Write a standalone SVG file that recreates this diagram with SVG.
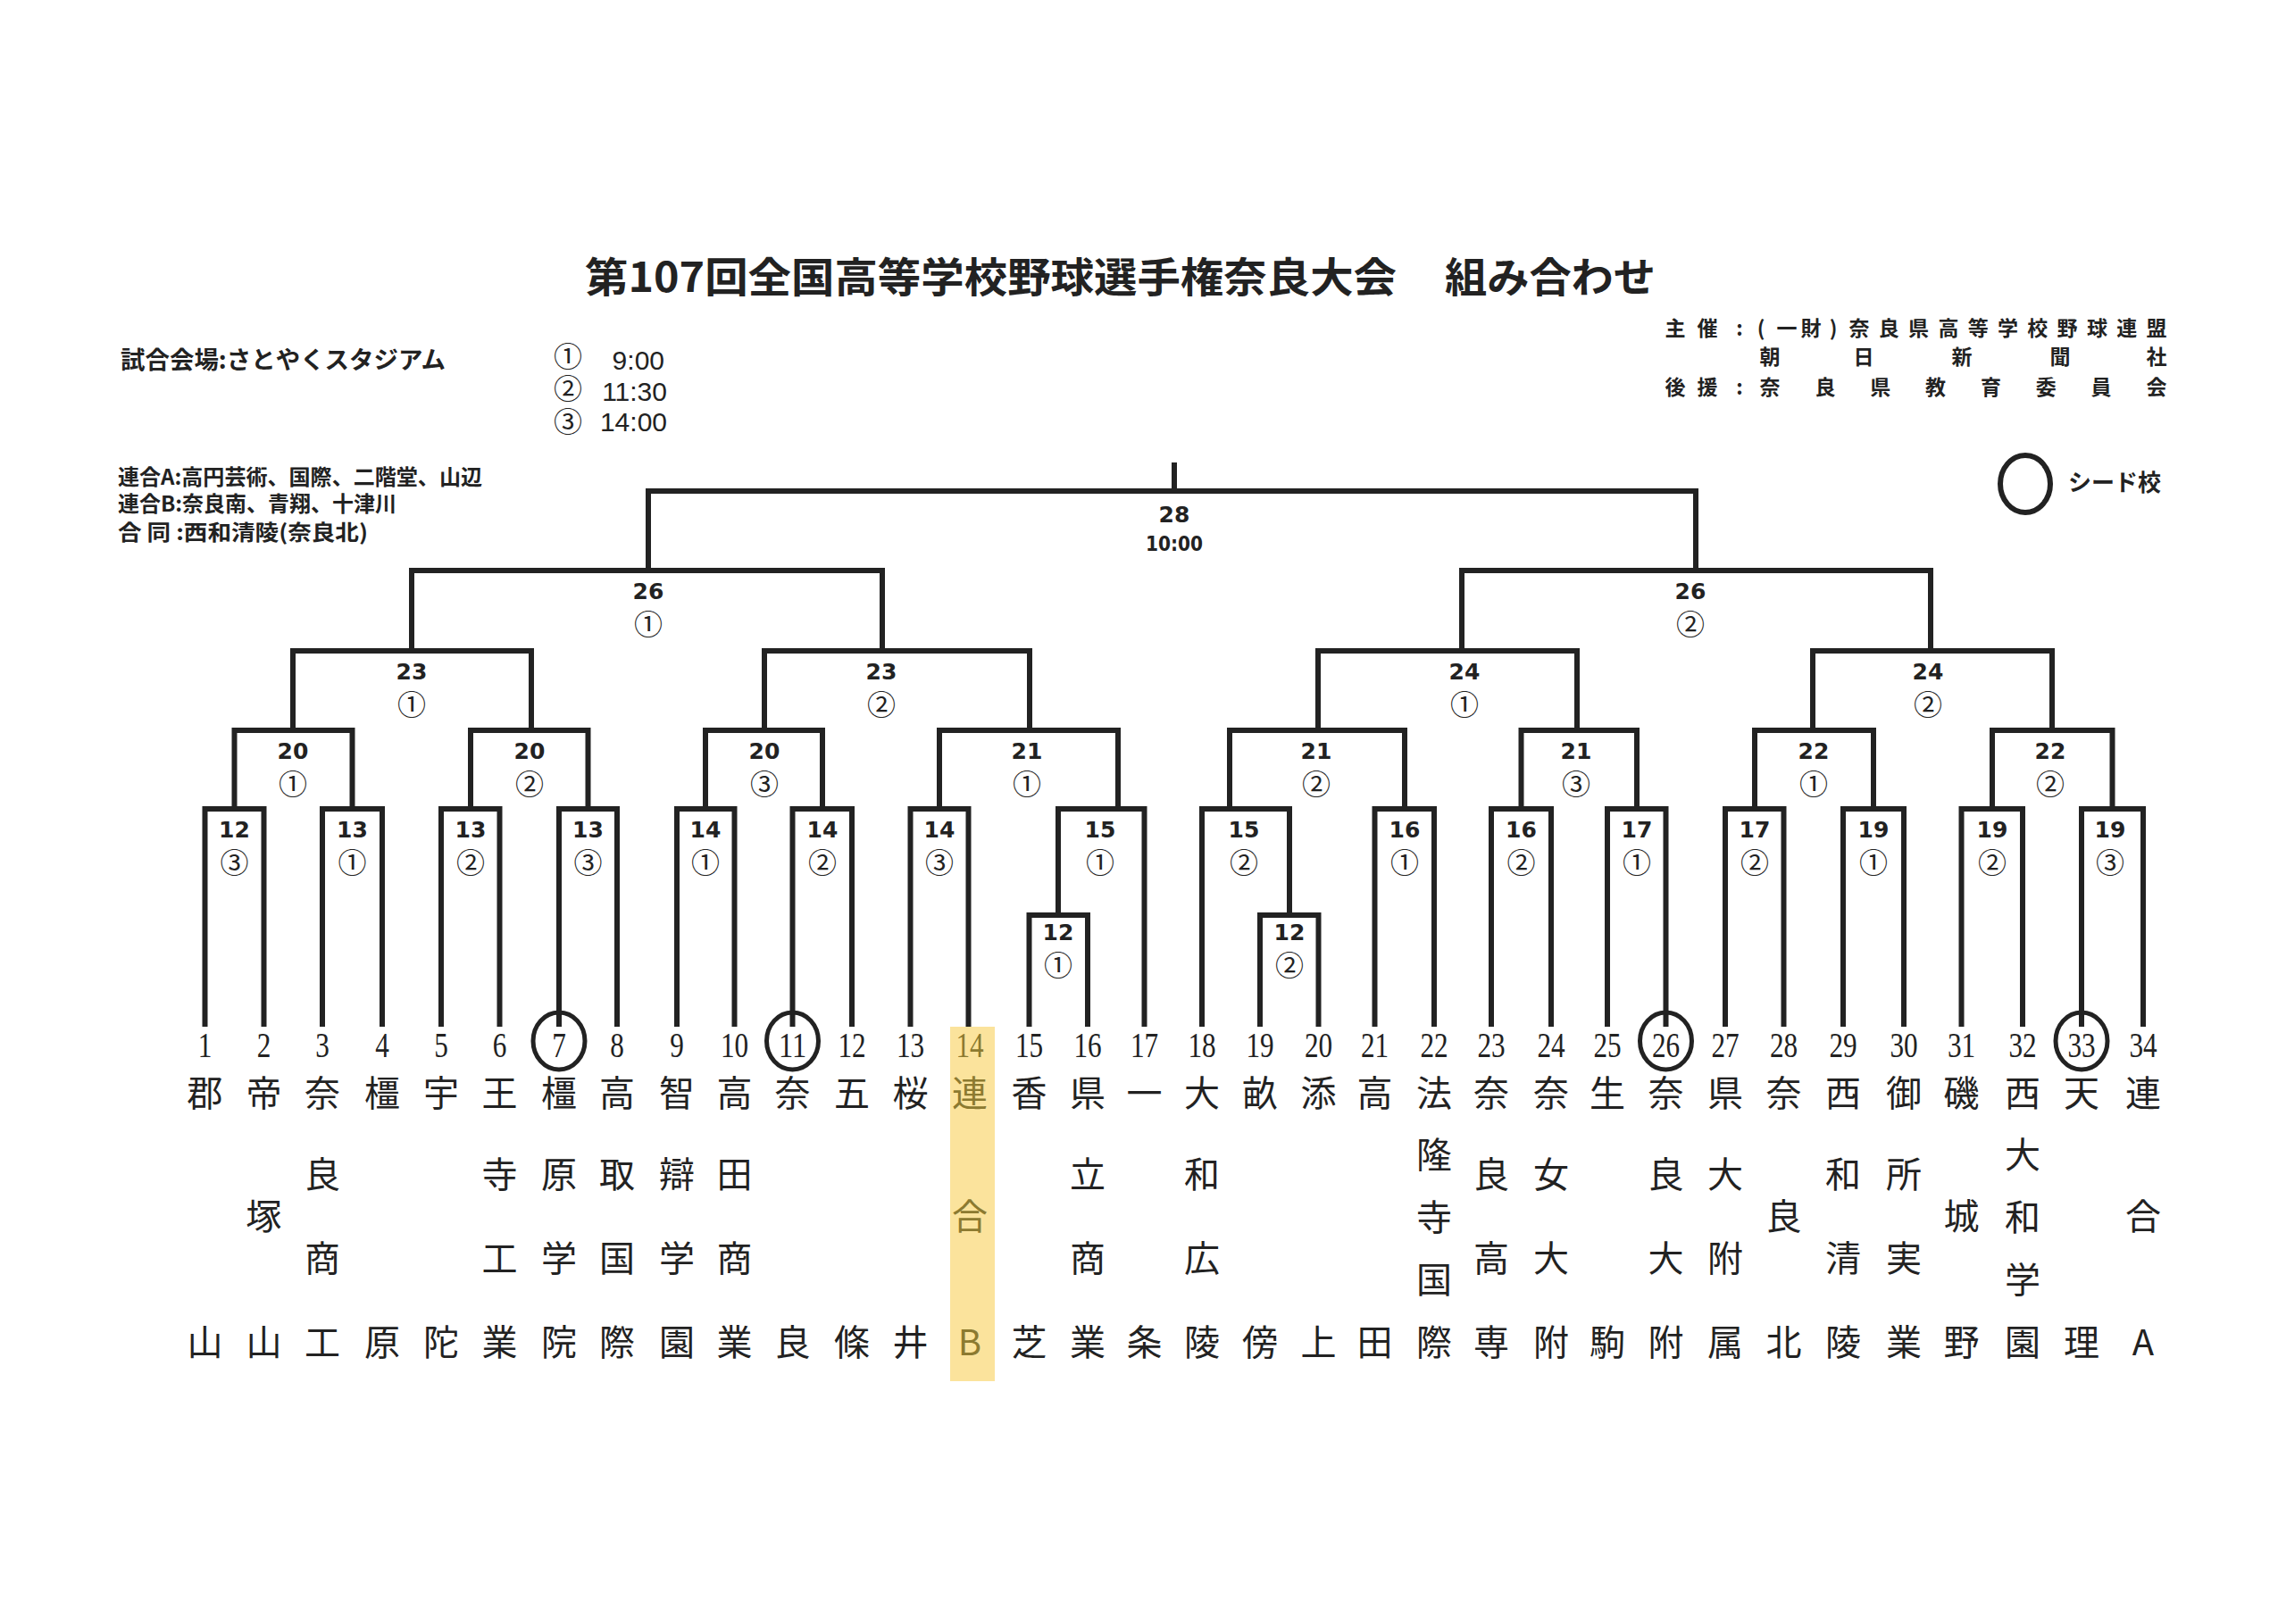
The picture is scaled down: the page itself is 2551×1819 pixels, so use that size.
<svg xmlns="http://www.w3.org/2000/svg" width="2551" height="1819" viewBox="0 0 2551 1819">
<style>
.ln{fill:none;stroke:#222;stroke-width:6;stroke-linecap:square;stroke-linejoin:miter}
.ml{font-family:"DejaVu Sans","Liberation Sans",sans-serif;font-weight:700;font-size:25px;fill:#222;text-anchor:middle}
.mc{font-family:"Noto Sans CJK JP",sans-serif;font-weight:400;font-size:32px;fill:#222;text-anchor:middle}
.num{font-family:"Liberation Serif","Times New Roman",serif;font-size:39px}
.nm{font-family:"Noto Sans CJK JP",sans-serif;font-size:40px;fill:#222;text-anchor:middle}
.seed{fill:none;stroke:#222;stroke-width:5}
.hd{font-family:"Noto Sans CJK JP",sans-serif;font-weight:700;fill:#222}
.hc{text-anchor:middle}
.tm{font-family:"Liberation Sans",Arial,sans-serif;font-weight:400;font-size:30px;text-anchor:end}
.gold{fill:#8c7a30}
</style>
<rect x="0" y="0" width="2551" height="1819" fill="#ffffff"/>

<g id="header">
<text class="hd" x="655" y="327" font-size="46" textLength="909" lengthAdjust="spacingAndGlyphs">第107回全国高等学校野球選手権奈良大会</text>
<text class="hd" x="1618" y="327" font-size="46" textLength="236" lengthAdjust="spacingAndGlyphs">組み合わせ</text>
<text class="hd" x="135" y="413" font-size="27" textLength="364" lengthAdjust="spacingAndGlyphs">試合会場:さとやくスタジアム</text>
<text class="mc" font-size="25" x="636" y="410.5">①<tspan class="tm" x="744" y="414">9:00</tspan><tspan x="636" y="447.25">②</tspan><tspan class="tm" x="747" y="449">11:30</tspan><tspan x="636" y="484">③</tspan><tspan class="tm" x="747" y="483">14:00</tspan></text>
<text class="hd" font-size="24" x="132" y="543"><tspan textLength="408" lengthAdjust="spacingAndGlyphs">連合A:高円芸術、国際、二階堂、山辺</tspan><tspan x="132" y="573" textLength="312" lengthAdjust="spacingAndGlyphs">連合B:奈良南、青翔、十津川</tspan><tspan x="132" y="605" textLength="280" lengthAdjust="spacingAndGlyphs">合 同 :西和清陵(奈良北)</tspan></text>
<text class="hd hc" font-size="23" y="376" x="1876 1912">主催<tspan x="1948">:</tspan><tspan x="1972 2001 2028 2053">(一財)</tspan><tspan x="2082 2115.3 2148.6 2181.9 2215.2 2248.5 2281.8 2315.1 2348.4 2381.7 2415">奈良県高等学校野球連盟</tspan><tspan y="408" x="1982 2087 2197 2307 2415">朝日新聞社</tspan><tspan y="442" x="1876 1912">後援</tspan><tspan x="1948">:</tspan><tspan x="1982 2043.9 2105.7 2167.6 2229.4 2291.3 2353.1 2415">奈良県教育委員会</tspan></text>
</g>

<g id="legend">
<ellipse cx="2268" cy="542" rx="28" ry="32" fill="none" stroke="#222" stroke-width="6"/>
<text class="hd" x="2316" y="550" font-size="26">シード校</text>
</g>

<g id="team-14-highlight">
<rect x="1064" y="1150" width="50" height="397" fill="#fbe39c"/>
</g>

<g id="connectors">
<path class="ln" d="M229.5 1147 V906 H295.5 V1147"/>
<path class="ln" d="M361 1147 V906 H428 V1147"/>
<path class="ln" d="M494 1147 V906 H559.5 V1147"/>
<path class="ln" d="M626 1147 V906 H691 V1147"/>
<path class="ln" d="M758 1147 V906 H822.5 V1147"/>
<path class="ln" d="M887.5 1147 V906 H954 V1147"/>
<path class="ln" d="M1019.5 1147 V906 H1084.5 V1147"/>
<path class="ln" d="M1152.5 1147 V1025 H1218 V1147"/>
<path class="ln" d="M1185 1025 V906 H1281.5 V1147"/>
<path class="ln" d="M1411 1147 V1025 H1476.5 V1147"/>
<path class="ln" d="M1346 1147 V906 H1444 V1025"/>
<path class="ln" d="M1539.5 1147 V906 H1606 V1147"/>
<path class="ln" d="M1670 1147 V906 H1737 V1147"/>
<path class="ln" d="M1800 1147 V906 H1865.5 V1147"/>
<path class="ln" d="M1932 1147 V906 H1997.5 V1147"/>
<path class="ln" d="M2064 1147 V906 H2132 V1147"/>
<path class="ln" d="M2196.5 1147 V906 H2265 V1147"/>
<path class="ln" d="M2331 1147 V906 H2400 V1147"/>
<path class="ln" d="M262.5 906 V818 H394.5 V906"/>
<path class="ln" d="M527 906 V818 H658.5 V906"/>
<path class="ln" d="M790 906 V818 H921 V906"/>
<path class="ln" d="M1052 906 V818 H1252 V906"/>
<path class="ln" d="M1377 906 V818 H1573 V906"/>
<path class="ln" d="M1703.5 906 V818 H1833 V906"/>
<path class="ln" d="M1965 906 V818 H2098 V906"/>
<path class="ln" d="M2231 906 V818 H2365.5 V906"/>
<path class="ln" d="M328 818 V729 H595 V818"/>
<path class="ln" d="M856 818 V729 H1153 V818"/>
<path class="ln" d="M1476 818 V729 H1766 V818"/>
<path class="ln" d="M2030 818 V729 H2298 V818"/>
<path class="ln" d="M461 729 V639 H988 V729"/>
<path class="ln" d="M1637 729 V639 H2162 V729"/>
<path class="ln" d="M726 639 V550 H1899 V639"/>
<path class="ln" d="M1315 550 V521"/>
</g>

<g id="match-labels">
<g id="m-12-3"><text class="ml" x="262.5" y="938">12<tspan class="mc" x="262.5" y="978">③</tspan></text></g>
<g id="m-13-1"><text class="ml" x="394.5" y="938">13<tspan class="mc" x="394.5" y="978">①</tspan></text></g>
<g id="m-13-2"><text class="ml" x="527" y="938">13<tspan class="mc" x="527" y="978">②</tspan></text></g>
<g id="m-13-3"><text class="ml" x="658.5" y="938">13<tspan class="mc" x="658.5" y="978">③</tspan></text></g>
<g id="m-14-1"><text class="ml" x="790" y="938">14<tspan class="mc" x="790" y="978">①</tspan></text></g>
<g id="m-14-2"><text class="ml" x="921" y="938">14<tspan class="mc" x="921" y="978">②</tspan></text></g>
<g id="m-14-3"><text class="ml" x="1052" y="938">14<tspan class="mc" x="1052" y="978">③</tspan></text></g>
<g id="m-12-1"><text class="ml" x="1185" y="1053">12<tspan class="mc" x="1185" y="1093">①</tspan></text></g>
<g id="m-15-1"><text class="ml" x="1232" y="938">15<tspan class="mc" x="1232" y="978">①</tspan></text></g>
<g id="m-12-2"><text class="ml" x="1444" y="1053">12<tspan class="mc" x="1444" y="1093">②</tspan></text></g>
<g id="m-15-2"><text class="ml" x="1393" y="938">15<tspan class="mc" x="1393" y="978">②</tspan></text></g>
<g id="m-16-1"><text class="ml" x="1573" y="938">16<tspan class="mc" x="1573" y="978">①</tspan></text></g>
<g id="m-16-2"><text class="ml" x="1703.5" y="938">16<tspan class="mc" x="1703.5" y="978">②</tspan></text></g>
<g id="m-17-1"><text class="ml" x="1833" y="938">17<tspan class="mc" x="1833" y="978">①</tspan></text></g>
<g id="m-17-2"><text class="ml" x="1965" y="938">17<tspan class="mc" x="1965" y="978">②</tspan></text></g>
<g id="m-19-1"><text class="ml" x="2098" y="938">19<tspan class="mc" x="2098" y="978">①</tspan></text></g>
<g id="m-19-2"><text class="ml" x="2231" y="938">19<tspan class="mc" x="2231" y="978">②</tspan></text></g>
<g id="m-19-3"><text class="ml" x="2363" y="938">19<tspan class="mc" x="2363" y="978">③</tspan></text></g>
<g id="m-20-1"><text class="ml" x="328" y="850">20<tspan class="mc" x="328" y="890">①</tspan></text></g>
<g id="m-20-2"><text class="ml" x="593" y="850">20<tspan class="mc" x="593" y="890">②</tspan></text></g>
<g id="m-20-3"><text class="ml" x="856" y="850">20<tspan class="mc" x="856" y="890">③</tspan></text></g>
<g id="m-21-1"><text class="ml" x="1150" y="850">21<tspan class="mc" x="1150" y="890">①</tspan></text></g>
<g id="m-21-2"><text class="ml" x="1474" y="850">21<tspan class="mc" x="1474" y="890">②</tspan></text></g>
<g id="m-21-3"><text class="ml" x="1765" y="850">21<tspan class="mc" x="1765" y="890">③</tspan></text></g>
<g id="m-22-1"><text class="ml" x="2031" y="850">22<tspan class="mc" x="2031" y="890">①</tspan></text></g>
<g id="m-22-2"><text class="ml" x="2296" y="850">22<tspan class="mc" x="2296" y="890">②</tspan></text></g>
<g id="m-23-1"><text class="ml" x="461" y="761">23<tspan class="mc" x="461" y="801">①</tspan></text></g>
<g id="m-23-2"><text class="ml" x="987" y="761">23<tspan class="mc" x="987" y="801">②</tspan></text></g>
<g id="m-24-1"><text class="ml" x="1640" y="761">24<tspan class="mc" x="1640" y="801">①</tspan></text></g>
<g id="m-24-2"><text class="ml" x="2159" y="761">24<tspan class="mc" x="2159" y="801">②</tspan></text></g>
<g id="m-26-1"><text class="ml" x="726" y="671">26<tspan class="mc" x="726" y="711">①</tspan></text></g>
<g id="m-26-2"><text class="ml" x="1893" y="671">26<tspan class="mc" x="1893" y="711">②</tspan></text></g>
<g id="m-28"><text class="ml" x="1315" y="585">28<tspan x="1283" y="617" font-size="23" text-anchor="start" textLength="64" lengthAdjust="spacingAndGlyphs">10:00</tspan></text></g>
</g>

<g id="teams">
<g id="team-1"><text class="nm" x="229.5" y="1184"><tspan class="num" textLength="15.6" lengthAdjust="spacingAndGlyphs">1</tspan><tspan x="229.5" y="1239">郡</tspan><tspan x="229.5" y="1518">山</tspan></text></g>
<g id="team-2"><text class="nm" x="295.5" y="1184"><tspan class="num" textLength="15.6" lengthAdjust="spacingAndGlyphs">2</tspan><tspan x="295.5" y="1239">帝</tspan><tspan x="295.5" y="1377">塚</tspan><tspan x="295.5" y="1518">山</tspan></text></g>
<g id="team-3"><text class="nm" x="361" y="1184"><tspan class="num" textLength="15.6" lengthAdjust="spacingAndGlyphs">3</tspan><tspan x="361" y="1239">奈</tspan><tspan x="361" y="1330">良</tspan><tspan x="361" y="1424">商</tspan><tspan x="361" y="1518">工</tspan></text></g>
<g id="team-4"><text class="nm" x="428" y="1184"><tspan class="num" textLength="15.6" lengthAdjust="spacingAndGlyphs">4</tspan><tspan x="428" y="1239">橿</tspan><tspan x="428" y="1518">原</tspan></text></g>
<g id="team-5"><text class="nm" x="494" y="1184"><tspan class="num" textLength="15.6" lengthAdjust="spacingAndGlyphs">5</tspan><tspan x="494" y="1239">宇</tspan><tspan x="494" y="1518">陀</tspan></text></g>
<g id="team-6"><text class="nm" x="559.5" y="1184"><tspan class="num" textLength="15.6" lengthAdjust="spacingAndGlyphs">6</tspan><tspan x="559.5" y="1239">王</tspan><tspan x="559.5" y="1330">寺</tspan><tspan x="559.5" y="1424">工</tspan><tspan x="559.5" y="1518">業</tspan></text></g>
<g id="team-7"><ellipse class="seed" cx="626" cy="1166" rx="29" ry="32"/><text class="nm" x="626" y="1184"><tspan class="num" textLength="15.6" lengthAdjust="spacingAndGlyphs">7</tspan><tspan x="626" y="1239">橿</tspan><tspan x="626" y="1330">原</tspan><tspan x="626" y="1424">学</tspan><tspan x="626" y="1518">院</tspan></text></g>
<g id="team-8"><text class="nm" x="691" y="1184"><tspan class="num" textLength="15.6" lengthAdjust="spacingAndGlyphs">8</tspan><tspan x="691" y="1239">高</tspan><tspan x="691" y="1330">取</tspan><tspan x="691" y="1424">国</tspan><tspan x="691" y="1518">際</tspan></text></g>
<g id="team-9"><text class="nm" x="758" y="1184"><tspan class="num" textLength="15.6" lengthAdjust="spacingAndGlyphs">9</tspan><tspan x="758" y="1239">智</tspan><tspan x="758" y="1330">辯</tspan><tspan x="758" y="1424">学</tspan><tspan x="758" y="1518">園</tspan></text></g>
<g id="team-10"><text class="nm" x="822.5" y="1184"><tspan class="num" textLength="31.2" lengthAdjust="spacingAndGlyphs">10</tspan><tspan x="822.5" y="1239">高</tspan><tspan x="822.5" y="1330">田</tspan><tspan x="822.5" y="1424">商</tspan><tspan x="822.5" y="1518">業</tspan></text></g>
<g id="team-11"><ellipse class="seed" cx="887.5" cy="1166" rx="29" ry="32"/><text class="nm" x="887.5" y="1184"><tspan class="num" textLength="31.2" lengthAdjust="spacingAndGlyphs">11</tspan><tspan x="887.5" y="1239">奈</tspan><tspan x="887.5" y="1518">良</tspan></text></g>
<g id="team-12"><text class="nm" x="954" y="1184"><tspan class="num" textLength="31.2" lengthAdjust="spacingAndGlyphs">12</tspan><tspan x="954" y="1239">五</tspan><tspan x="954" y="1518">條</tspan></text></g>
<g id="team-13"><text class="nm" x="1019.5" y="1184"><tspan class="num" textLength="31.2" lengthAdjust="spacingAndGlyphs">13</tspan><tspan x="1019.5" y="1239">桜</tspan><tspan x="1019.5" y="1518">井</tspan></text></g>
<g id="team-14"><text class="nm gold" x="1086" y="1184"><tspan class="num" textLength="31.2" lengthAdjust="spacingAndGlyphs">14</tspan><tspan x="1086" y="1239">連</tspan><tspan x="1086" y="1377">合</tspan><tspan x="1086" y="1518">B</tspan></text></g>
<g id="team-15"><text class="nm" x="1152.5" y="1184"><tspan class="num" textLength="31.2" lengthAdjust="spacingAndGlyphs">15</tspan><tspan x="1152.5" y="1239">香</tspan><tspan x="1152.5" y="1518">芝</tspan></text></g>
<g id="team-16"><text class="nm" x="1218" y="1184"><tspan class="num" textLength="31.2" lengthAdjust="spacingAndGlyphs">16</tspan><tspan x="1218" y="1239">県</tspan><tspan x="1218" y="1330">立</tspan><tspan x="1218" y="1424">商</tspan><tspan x="1218" y="1518">業</tspan></text></g>
<g id="team-17"><text class="nm" x="1281.5" y="1184"><tspan class="num" textLength="31.2" lengthAdjust="spacingAndGlyphs">17</tspan><tspan x="1281.5" y="1239">一</tspan><tspan x="1281.5" y="1518">条</tspan></text></g>
<g id="team-18"><text class="nm" x="1346" y="1184"><tspan class="num" textLength="31.2" lengthAdjust="spacingAndGlyphs">18</tspan><tspan x="1346" y="1239">大</tspan><tspan x="1346" y="1330">和</tspan><tspan x="1346" y="1424">広</tspan><tspan x="1346" y="1518">陵</tspan></text></g>
<g id="team-19"><text class="nm" x="1411" y="1184"><tspan class="num" textLength="31.2" lengthAdjust="spacingAndGlyphs">19</tspan><tspan x="1411" y="1239">畝</tspan><tspan x="1411" y="1518">傍</tspan></text></g>
<g id="team-20"><text class="nm" x="1476.5" y="1184"><tspan class="num" textLength="31.2" lengthAdjust="spacingAndGlyphs">20</tspan><tspan x="1476.5" y="1239">添</tspan><tspan x="1476.5" y="1518">上</tspan></text></g>
<g id="team-21"><text class="nm" x="1539.5" y="1184"><tspan class="num" textLength="31.2" lengthAdjust="spacingAndGlyphs">21</tspan><tspan x="1539.5" y="1239">高</tspan><tspan x="1539.5" y="1518">田</tspan></text></g>
<g id="team-22"><text class="nm" x="1606" y="1184"><tspan class="num" textLength="31.2" lengthAdjust="spacingAndGlyphs">22</tspan><tspan x="1606" y="1239">法</tspan><tspan x="1606" y="1308">隆</tspan><tspan x="1606" y="1378">寺</tspan><tspan x="1606" y="1448">国</tspan><tspan x="1606" y="1518">際</tspan></text></g>
<g id="team-23"><text class="nm" x="1670" y="1184"><tspan class="num" textLength="31.2" lengthAdjust="spacingAndGlyphs">23</tspan><tspan x="1670" y="1239">奈</tspan><tspan x="1670" y="1330">良</tspan><tspan x="1670" y="1424">高</tspan><tspan x="1670" y="1518">専</tspan></text></g>
<g id="team-24"><text class="nm" x="1737" y="1184"><tspan class="num" textLength="31.2" lengthAdjust="spacingAndGlyphs">24</tspan><tspan x="1737" y="1239">奈</tspan><tspan x="1737" y="1330">女</tspan><tspan x="1737" y="1424">大</tspan><tspan x="1737" y="1518">附</tspan></text></g>
<g id="team-25"><text class="nm" x="1800" y="1184"><tspan class="num" textLength="31.2" lengthAdjust="spacingAndGlyphs">25</tspan><tspan x="1800" y="1239">生</tspan><tspan x="1800" y="1518">駒</tspan></text></g>
<g id="team-26"><ellipse class="seed" cx="1865.5" cy="1166" rx="29" ry="32"/><text class="nm" x="1865.5" y="1184"><tspan class="num" textLength="31.2" lengthAdjust="spacingAndGlyphs">26</tspan><tspan x="1865.5" y="1239">奈</tspan><tspan x="1865.5" y="1330">良</tspan><tspan x="1865.5" y="1424">大</tspan><tspan x="1865.5" y="1518">附</tspan></text></g>
<g id="team-27"><text class="nm" x="1932" y="1184"><tspan class="num" textLength="31.2" lengthAdjust="spacingAndGlyphs">27</tspan><tspan x="1932" y="1239">県</tspan><tspan x="1932" y="1330">大</tspan><tspan x="1932" y="1424">附</tspan><tspan x="1932" y="1518">属</tspan></text></g>
<g id="team-28"><text class="nm" x="1997.5" y="1184"><tspan class="num" textLength="31.2" lengthAdjust="spacingAndGlyphs">28</tspan><tspan x="1997.5" y="1239">奈</tspan><tspan x="1997.5" y="1377">良</tspan><tspan x="1997.5" y="1518">北</tspan></text></g>
<g id="team-29"><text class="nm" x="2064" y="1184"><tspan class="num" textLength="31.2" lengthAdjust="spacingAndGlyphs">29</tspan><tspan x="2064" y="1239">西</tspan><tspan x="2064" y="1330">和</tspan><tspan x="2064" y="1424">清</tspan><tspan x="2064" y="1518">陵</tspan></text></g>
<g id="team-30"><text class="nm" x="2132" y="1184"><tspan class="num" textLength="31.2" lengthAdjust="spacingAndGlyphs">30</tspan><tspan x="2132" y="1239">御</tspan><tspan x="2132" y="1330">所</tspan><tspan x="2132" y="1424">実</tspan><tspan x="2132" y="1518">業</tspan></text></g>
<g id="team-31"><text class="nm" x="2196.5" y="1184"><tspan class="num" textLength="31.2" lengthAdjust="spacingAndGlyphs">31</tspan><tspan x="2196.5" y="1239">磯</tspan><tspan x="2196.5" y="1377">城</tspan><tspan x="2196.5" y="1518">野</tspan></text></g>
<g id="team-32"><text class="nm" x="2265" y="1184"><tspan class="num" textLength="31.2" lengthAdjust="spacingAndGlyphs">32</tspan><tspan x="2265" y="1239">西</tspan><tspan x="2265" y="1308">大</tspan><tspan x="2265" y="1378">和</tspan><tspan x="2265" y="1448">学</tspan><tspan x="2265" y="1518">園</tspan></text></g>
<g id="team-33"><ellipse class="seed" cx="2331" cy="1166" rx="29" ry="32"/><text class="nm" x="2331" y="1184"><tspan class="num" textLength="31.2" lengthAdjust="spacingAndGlyphs">33</tspan><tspan x="2331" y="1239">天</tspan><tspan x="2331" y="1518">理</tspan></text></g>
<g id="team-34"><text class="nm" x="2400" y="1184"><tspan class="num" textLength="31.2" lengthAdjust="spacingAndGlyphs">34</tspan><tspan x="2400" y="1239">連</tspan><tspan x="2400" y="1377">合</tspan><tspan x="2400" y="1518">A</tspan></text></g>
</g>
</svg>
